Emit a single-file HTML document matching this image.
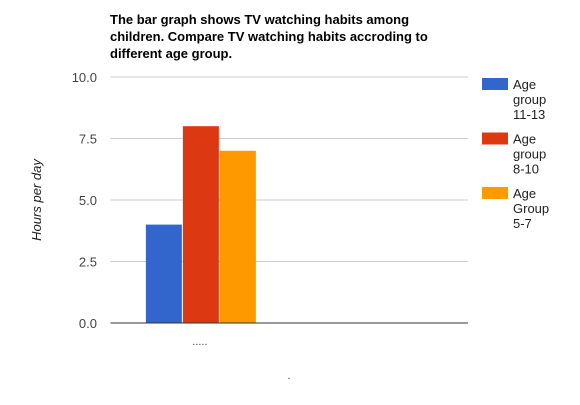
<!DOCTYPE html>
<html><head><meta charset="utf-8"><style>
body{margin:0;background:#fff;font-family:"Liberation Sans",Arial,sans-serif}
svg text{font-family:"Liberation Sans",Arial,sans-serif}
</style></head><body>
<svg id="chart" width="580" height="400">
<text x="110" y="24" font-size="13" font-weight="bold" fill="#000">The bar graph shows TV watching habits among</text>
<text x="110" y="41" font-size="13" font-weight="bold" fill="#000">children. Compare TV watching habits accroding to</text>
<text x="110" y="58" font-size="13" font-weight="bold" fill="#000">different age group.</text>
<text transform="translate(41,200) rotate(-90)" text-anchor="middle" font-size="13" font-style="italic" fill="#222">Hours per day</text>
<g id="grid"></g><g id="bars"></g><g id="legend"></g>
</svg>
<script>
const categories = [".....", "."];
const seriesNames = ["Age group 11-13", "Age group 8-10", "Age Group 5-7"];
const seriesColors = ["#3366cc", "#dc3912", "#ff9900"];
const values11to13 = [4, null];
const values8to10 = [8, null];
const values5to7 = [7, null];
const yTicks = [0, 2.5, 5, 7.5, 10];
const yTickLabels = ["0.0", "2.5", "5.0", "7.5", "10.0"];
const series = [values11to13, values8to10, values5to7];
const NS = "http://www.w3.org/2000/svg";
const X0 = 110.5, X1 = 468, Y0 = 323, Y1 = 77, YMAX = 10;
const y = v => Y0 - (v / YMAX) * (Y0 - Y1);
const band = (X1 - X0) / categories.length;
const barW = 36;
function mk(tag, attrs, parent) { const e = document.createElementNS(NS, tag); for (const k in attrs) e.setAttribute(k, attrs[k]); parent.appendChild(e); return e; }
const grid = document.getElementById('grid');
yTicks.forEach((t, i) => {
  if (t !== 0) {
    const l = mk('line', {x1: X0, x2: X1, y1: y(t), y2: y(t), stroke: '#ccc', 'stroke-width': 1}, grid);
    
    
  }
  const tx = mk('text', {x: 97, y: y(t) + 5, 'text-anchor': 'end', 'font-size': 13, fill: '#444'}, grid);
  tx.textContent = yTickLabels[i];
  
  
});
const bars = document.getElementById('bars');
categories.forEach((c, ci) => {
  const cx = X0 + band * (ci + 0.5);
  series.forEach((s, si) => {
    if (s[ci] == null) return;
    const x = cx + 1 - (series.length * barW + (series.length - 1)) / 2 + si * (barW + 1);
    const r = mk('rect', {x: x, y: y(s[ci]), width: barW, height: Y0 - y(s[ci]), fill: seriesColors[si]}, bars);
    
    
  });
  const lb = mk('text', {x: ci === 0 ? cx : 289, y: ci === 0 ? 345 : 379, 'text-anchor': 'middle', 'font-size': 11, fill: '#444'}, bars);
  lb.textContent = c;
  
  
});
const ax = mk('line', {x1: X0, x2: X1, y1: Y0, y2: Y0, stroke: '#333', 'stroke-width': 1}, bars);


const legend = document.getElementById('legend');
seriesNames.forEach((n, i) => {
  const top = 78 + i * 54.5;
  const sw = mk('rect', {x: 482, y: top, width: 26, height: 12, fill: seriesColors[i]}, legend);
  
  
  const parts = n.split(' ');
  const words = [parts[0], parts[1], parts.slice(2).join(' ')];
  words.forEach((w, j) => {
    const t = mk('text', {x: 513, y: top + 11 + j * 15, 'font-size': 13, fill: '#222'}, legend);
    t.textContent = w;
    
    
  });
});
</script>
</body></html>
